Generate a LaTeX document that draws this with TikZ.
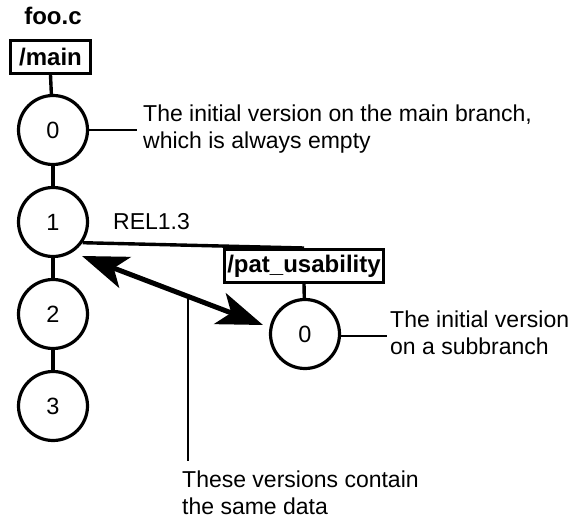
\documentclass[tikz,border=0pt]{standalone}
\usepackage{fontspec}
\setmainfont{Liberation Sans}
\usetikzlibrary{arrows.meta}
\begin{document}
\begin{tikzpicture}[x=1pt,y=-1pt,
  ver/.style={circle,draw,line width=3.2pt,minimum size=69pt,inner sep=0pt,font=\fontsize{23.5}{27}\selectfont},
  branch/.style={draw,line width=3pt,inner xsep=3pt,inner ysep=0pt,minimum height=33pt,font=\bfseries\fontsize{24}{28}\selectfont},
  note/.style={align=left,inner sep=0pt,font=\fontsize{23}{26.5}\selectfont},
  thick link/.style={line width=3.4pt},
  leader/.style={line width=2pt},
  bigarrow/.style={line width=5pt,>={Stealth[length=46pt,width=33pt,inset=12pt]},<->}]
\useasboundingbox (0,0) rectangle (575,521);
\node[font=\bfseries\fontsize{24}{28}\selectfont,inner sep=0pt,anchor=base] (file) at (53,25) {foo.c};
\node[branch,minimum width=80pt] (main) at (50.5,57) {/main};
\node[ver] (m0) at (53,130) {0};
\node[ver] (m1) at (53,222) {1};
\node[ver] (m2) at (53,314) {2};
\node[ver] (m3) at (53,406) {3};
\node[branch] (pat) at (304,266) {/pat\_usability};
\node[ver] (s0) at (305,334) {0};
\draw[thick link] (main.south) -- (m0);
\draw[thick link] (m0) -- (m1);
\draw[thick link] (m1) -- (m2);
\draw[thick link] (m2) -- (m3);
\draw[thick link] (pat.south) -- (s0);
\draw[thick link] (m1.-35) -- (pat.north);
\node[anchor=base west,inner sep=0pt,font=\fontsize{23}{27}\selectfont] (rel) at (113,230) {REL1.3};
\node[note,anchor=north west] (n0) at (143,105) {The initial version on the main branch,\\which is always empty};
\coordinate (n0l) at (137,130);
\draw[leader] (m0.east) -- (n0l);
\node[note,anchor=north west] (n1) at (390,311) {The initial version\\on a subbranch};
\coordinate (n1l) at (387,336);
\draw[leader] (s0.east |- n1l) -- (n1l);
\coordinate (a1) at (82,256);
\coordinate (a2) at (263,325);
\draw[bigarrow] (a1) -- (a2);
\coordinate (p0) at (188,296);
\coordinate (p1) at (188,461);
\draw[leader] (p0) -- (p1);
\node[note,anchor=north west] (n2) at (182,471) {These versions contain\\the same data};
\end{tikzpicture}
\end{document}
